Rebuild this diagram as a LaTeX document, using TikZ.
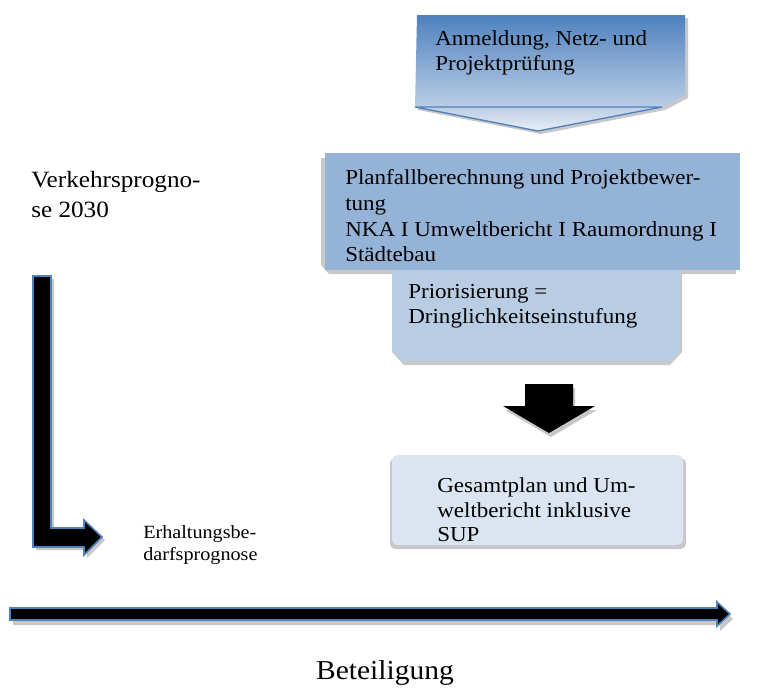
\documentclass[tikz,border=0pt]{standalone}
\usepackage{fontspec}
\setmainfont{Liberation Serif}[FakeStretch=1.08]
\definecolor{accent}{HTML}{4F81BD}
\definecolor{boxA}{HTML}{95B3D7}
\definecolor{boxB}{HTML}{B8CCE4}
\definecolor{boxC}{HTML}{DBE5F1}
\definecolor{gradlow}{HTML}{BACEE6}
\definecolor{trihigh}{HTML}{BCCDE3}
\definecolor{trilow}{HTML}{E9EFF7}
\definecolor{shadowgray}{HTML}{C8C8C8}
\begin{document}
\begin{tikzpicture}[x=0.75pt,y=-0.75pt,
  every node/.style={inner sep=0pt, anchor=base west},
  boxtext/.style={font=\fontsize{16}{19}\selectfont},
  sidetext/.style={font=\fontsize{17.5}{22}\selectfont},
  bigtext/.style={font=\fontsize{20.5}{24}\selectfont},
  smalltext/.style={font=\fontsize{14}{16}\selectfont},
  shadowfill/.style={fill=shadowgray},
  blockarrow/.style={fill=black, draw=accent, line width=1.2pt, line join=miter}]
\useasboundingbox (0,0) rectangle (766,687);

% ---------- Box 1 (chevron) ----------
\fill[shadowfill, shift={(3,3)}] (417,15) -- (685,15) -- (685,95) -- (662,107) -- (538,131) -- (415,107) -- cycle;
\shade[top color=accent, bottom color=gradlow] (417,15) -- (685,15) -- (685,95) -- (662,107) -- (415,107) -- cycle;
\shade[top color=trihigh, bottom color=trilow] (415,107) -- (662,107) -- (538,131) -- cycle;
\draw[accent, line width=1pt] (415,107) -- (662,107) -- (538,131) -- cycle;
\node[boxtext] (t1a) at (435,45) {Anmeldung, Netz- und};
\node[boxtext] (t1b) at (435,70) {Projektprüfung};

% ---------- Box 2 ----------
\fill[shadowfill] (321,158) -- (736,158) -- (736,274) -- (329,274) -- (321,265) -- cycle;
\fill[boxA] (325,153) rectangle (740,270);
\node[boxtext] (t2a) at (345,184) {Planfallberechnung und Projektbewer-};
\node[boxtext] (t2b) at (345,210) {tung};
\node[boxtext] (t2c) at (345,236) {NKA I Umweltbericht I Raumordnung I};
\node[boxtext] (t2d) at (345,261) {Städtebau};

% ---------- Box 3 ----------
\fill[shadowfill] (392,272) -- (682,272) -- (682,352) -- (670,365) -- (404,365) -- (392,352) -- cycle;
\fill[boxB] (392,270) -- (680,270) -- (680,350) -- (670,361) -- (403,361) -- (392,349) -- cycle;
\node[boxtext] (t3a) at (408,298) {Priorisierung =};
\node[boxtext] (t3b) at (408,323) {Dringlichkeitseinstufung};

% ---------- Down arrow ----------
\fill[shadowfill, shift={(2,4)}] (525,384) -- (573,384) -- (573,406) -- (595,406) -- (549,433) -- (503,406) -- (525,406) -- cycle;
\fill[black] (525,384) -- (573,384) -- (573,406) -- (595,406) -- (549,433) -- (503,406) -- (525,406) -- cycle;

% ---------- Box 4 ----------
\fill[shadowfill, rounded corners=4pt] (390,458) rectangle (686,549);
\fill[boxC, rounded corners=4pt] (392,455) rectangle (683,545);
\node[boxtext] (t4a) at (437,492) {Gesamtplan und Um-};
\node[boxtext] (t4b) at (437,517) {weltbericht inklusive};
\node[boxtext] (t4c) at (437,541) {SUP};

% ---------- L arrow ----------
\fill[shadowfill, shift={(3,3)}] (33,276) -- (51,276) -- (51,528) -- (84,528) -- (84,520) -- (102,537) -- (84,555) -- (84,547) -- (33,547) -- cycle;
\draw[blockarrow] (33,276) -- (51,276) -- (51,528) -- (84,528) -- (84,520) -- (102,537) -- (84,555) -- (84,547) -- (33,547) -- cycle;

% ---------- Long horizontal arrow ----------
\fill[shadowfill, shift={(3,5)}] (10,608) -- (717,608) -- (717,602) -- (730,614) -- (717,626) -- (717,620) -- (10,620) -- cycle;
\draw[blockarrow] (10,608) -- (717,608) -- (717,602) -- (730,614) -- (717,626) -- (717,620) -- (10,620) -- cycle;

% ---------- Side texts ----------
\node[sidetext] (vp1) at (31,187) {Verkehrsprogno-};
\node[sidetext] (vp2) at (31,217) {se 2030};
\node[smalltext] (eb1) at (143,538) {Erhaltungsbe-};
\node[smalltext] (eb2) at (143,560) {darfsprognose};
\node[bigtext, anchor=base] (bt) at (385,679) {Beteiligung};
\end{tikzpicture}
\end{document}
